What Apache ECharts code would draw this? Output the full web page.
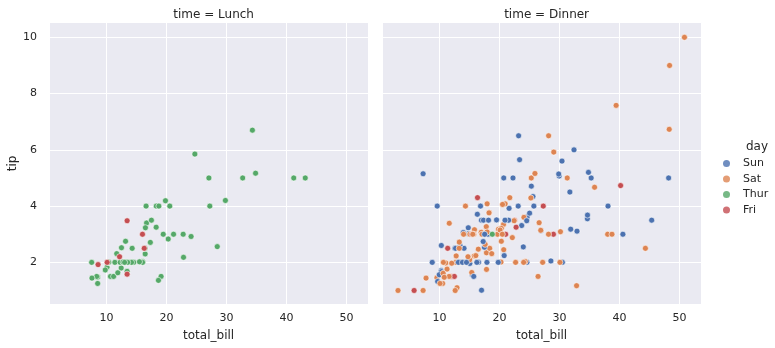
<!DOCTYPE html>
<html>
<head>
<meta charset="utf-8">
<script src="https://cdn.jsdelivr.net/npm/echarts@6/dist/echarts.min.js"></script>
<style>
  html, body { margin: 0; padding: 0; background: #fff; }
  #chart { width: 775px; height: 348px; }
</style>
</head>
<body>
<div id="chart"></div>
<script>
// Restaurant tips: one row per bill
const total_bill = [16.99,10.34,21.01,23.68,24.59,25.29,8.77,26.88,15.04,14.78,10.27,35.26,15.42,18.43,14.83,21.58,10.33,16.29,16.97,20.65,17.92,20.29,15.77,39.42,19.82,17.81,13.37,12.69,21.7,19.65,9.55,18.35,15.06,20.69,17.78,24.06,16.31,16.93,18.69,31.27,16.04,17.46,13.94,9.68,30.4,18.29,22.23,32.4,28.55,18.04,12.54,10.29,34.81,9.94,25.56,19.49,38.01,26.41,11.24,48.27,20.29,13.81,11.02,18.29,17.59,20.08,16.45,3.07,20.23,15.01,12.02,17.07,26.86,25.28,14.73,10.51,17.92,27.2,22.76,17.29,19.44,16.66,10.07,32.68,15.98,34.83,13.03,18.28,24.71,21.16,28.97,22.49,5.75,16.32,22.75,40.17,27.28,12.03,21.01,12.46,11.35,15.38,44.3,22.42,20.92,15.36,20.49,25.21,18.24,14.31,14.0,7.25,38.07,23.95,25.71,17.31,29.93,10.65,12.43,24.08,11.69,13.42,14.26,15.95,12.48,29.8,8.52,14.52,11.38,22.82,19.08,20.27,11.17,12.26,18.26,8.51,10.33,14.15,16.0,13.16,17.47,34.3,41.19,27.05,16.43,8.35,18.64,11.87,9.78,7.51,14.07,13.13,17.26,24.55,19.77,29.85,48.17,25.0,13.39,16.49,21.5,12.66,16.21,13.81,17.51,24.52,20.76,31.71,10.59,10.63,50.81,15.81,7.25,31.85,16.82,32.9,17.89,14.48,9.6,34.63,34.65,23.33,45.35,23.17,40.55,20.69,20.9,30.46,18.15,23.1,15.69,19.81,28.44,15.48,16.58,7.56,10.34,43.11,13.0,13.51,18.71,12.74,13.0,16.4,20.53,16.47,26.59,38.73,24.27,12.76,30.06,25.89,48.33,13.27,28.17,12.9,28.15,11.59,7.74,30.14,12.16,13.42,8.58,15.98,13.42,16.27,10.09,20.45,13.28,22.12,24.01,15.69,11.61,10.77,15.53,10.07,12.6,32.83,35.83,29.03,27.18,22.67,17.82,18.78];
const tip = [1.01,1.66,3.5,3.31,3.61,4.71,2.0,3.12,1.96,3.23,1.71,5.0,1.57,3.0,3.02,3.92,1.67,3.71,3.5,3.35,4.08,2.75,2.23,7.58,3.18,2.34,2.0,2.0,4.3,3.0,1.45,2.5,3.0,2.45,3.27,3.6,2.0,3.07,2.31,5.0,2.24,2.54,3.06,1.32,5.6,3.0,5.0,6.0,2.05,3.0,2.5,2.6,5.2,1.56,4.34,3.51,3.0,1.5,1.76,6.73,3.21,2.0,1.98,3.76,2.64,3.15,2.47,1.0,2.01,2.09,1.97,3.0,3.14,5.0,2.2,1.25,3.08,4.0,3.0,2.71,3.0,3.4,1.83,5.0,2.03,5.17,2.0,4.0,5.85,3.0,3.0,3.5,1.0,4.3,3.25,4.73,4.0,1.5,3.0,1.5,2.5,3.0,2.5,3.48,4.08,1.64,4.06,4.29,3.76,4.0,3.0,1.0,4.0,2.55,4.0,3.5,5.07,1.5,1.8,2.92,2.31,1.68,2.5,2.0,2.52,4.2,1.48,2.0,2.0,2.18,1.5,2.83,1.5,2.0,3.25,1.25,2.0,2.0,2.0,2.75,3.5,6.7,5.0,5.0,2.3,1.5,1.36,1.63,1.73,2.0,2.5,2.0,2.74,2.0,2.0,5.14,5.0,3.75,2.61,2.0,3.5,2.5,2.0,2.0,3.0,3.48,2.24,4.5,1.61,2.0,10.0,3.16,5.15,3.18,4.0,3.11,2.0,2.0,4.0,3.55,3.68,5.65,3.5,6.5,3.0,5.0,3.5,2.0,3.5,4.0,1.5,4.19,2.56,2.02,4.0,1.44,2.0,5.0,2.0,2.0,4.0,2.01,2.0,2.5,4.0,3.23,3.41,3.0,2.03,2.23,2.0,5.16,9.0,2.5,6.5,1.1,3.0,1.5,1.44,3.09,2.2,3.48,1.92,3.0,1.58,2.5,2.0,3.0,2.72,2.88,2.0,3.0,3.39,1.47,3.0,1.25,1.0,1.17,4.67,5.92,2.0,2.0,1.75,3.0];
// day / meal coded per row (runs of repeated values)
const dayRuns = [['Sun',19],['Sat',22],['Sun',15],['Sat',21],['Thur',13],['Fri',12],['Sat',10],['Sun',5],['Thur',33],['Sun',18],['Sat',4],['Sun',19],['Thur',15],['Sat',14],['Fri',7],['Sat',16],['Thur',1]];
const timeRuns = [['Dinner',77],['Lunch',13],['Dinner',27],['Lunch',33],['Dinner',41],['Lunch',15],['Dinner',14],['Lunch',7],['Dinner',17]];

const dayOrder = ['Sun', 'Sat', 'Thur', 'Fri'];
const timeOrder = ['Lunch', 'Dinner'];
const palette = ['#4C72B0', '#DD8452', '#55A868', '#C44E52'];

const xTicks = [10, 20, 30, 40, 50];
const yTicks = [2, 4, 6, 8, 10];

function expand(runs) {
  const out = [];
  runs.forEach(([v, n]) => { for (let i = 0; i < n; i++) out.push(v); });
  return out;
}
const day = expand(dayRuns);
const time = expand(timeRuns);

const FONT = 'DejaVu Sans';
const INK = '#262626';

const panelLeft = [49, 382];
const panelTop = 22.7;
const panelW = 319.2;
const panelH = 281.3;
const xMin = 0.4, xMax = 53.6;
const yMin = 0.52, yMax = 10.52;

const grids = [], xAxes = [], yAxes = [], series = [], titles = [];

timeOrder.forEach((t, k) => {
  grids.push({
    left: panelLeft[k], top: panelTop, width: panelW, height: panelH,
    show: true, backgroundColor: '#EAEAF2', borderWidth: 0, containLabel: false
  });
  xAxes.push({
    gridIndex: k, type: 'value', min: xMin, max: xMax, splitNumber: 5,
    axisLine: { show: false }, axisTick: { show: false },
    splitLine: { show: true, lineStyle: { color: '#ffffff', width: 1 } },
    axisLabel: {
      color: INK, fontFamily: FONT, fontSize: 11, margin: 9,
      showMinLabel: false, showMaxLabel: false,
      formatter: v => (xTicks.indexOf(v) >= 0 ? String(v) : '')
    },
    name: 'total_bill', nameLocation: 'middle', nameGap: 26,
    nameTextStyle: { color: INK, fontFamily: FONT, fontSize: 12 }
  });
  yAxes.push({
    gridIndex: k, type: 'value', min: yMin, max: yMax, splitNumber: 5,
    axisLine: { show: false }, axisTick: { show: false },
    splitLine: { show: true, lineStyle: { color: '#ffffff', width: 1 } },
    axisLabel: {
      show: k === 0, color: INK, fontFamily: FONT, fontSize: 11, margin: 12,
      showMinLabel: false, showMaxLabel: false,
      formatter: v => (yTicks.indexOf(v) >= 0 ? String(v) : '')
    },
    name: k === 0 ? 'tip' : '', nameLocation: 'middle', nameGap: 30, nameRotate: 90,
    nameTextStyle: { color: INK, fontFamily: FONT, fontSize: 12 }
  });
  titles.push({
    text: 'time = ' + t,
    left: panelLeft[k] + panelW / 2, top: 4, textAlign: 'center',
    textStyle: { color: INK, fontFamily: FONT, fontSize: 12, fontWeight: 'normal' }
  });

  // rows of this meal, kept in table order so later rows sit on top
  const pts = [];
  for (let i = 0; i < total_bill.length; i++) {
    if (time[i] === t) pts.push([total_bill[i], tip[i], dayOrder.indexOf(day[i])]);
  }
  series.push({
    type: 'scatter', xAxisIndex: k, yAxisIndex: k,
    data: pts, symbol: 'circle', symbolSize: 6,
    itemStyle: {
      color: p => palette[p.data[2]],
      borderColor: '#ffffff', borderWidth: 0.6, opacity: 1
    },
    emphasis: { disabled: true }
  });
});

// legend entries
dayOrder.forEach((d, j) => {
  series.push({
    type: 'scatter', name: d, xAxisIndex: 0, yAxisIndex: 0, data: [],
    itemStyle: { color: palette[j], borderWidth: 0 }
  });
});

titles.push({
  text: 'day', left: 741, top: 136,
  textStyle: { color: INK, fontFamily: FONT, fontSize: 12, fontWeight: 'normal' }
});

const chart = echarts.init(document.getElementById('chart'), null, { renderer: 'canvas' });
chart.setOption({
  animation: false,
  backgroundColor: '#ffffff',
  title: titles,
  grid: grids,
  xAxis: xAxes,
  yAxis: yAxes,
  legend: {
    data: dayOrder, orient: 'vertical', left: 718, top: 152.5,
    icon: 'circle', itemWidth: 7, itemHeight: 7, itemGap: 3.5,
    selectedMode: false,
    textStyle: { color: INK, fontFamily: FONT, fontSize: 11, lineHeight: 12, padding: [0, 0, 0, 8] }
  },
  series: series
});
</script>
</body>
</html>
